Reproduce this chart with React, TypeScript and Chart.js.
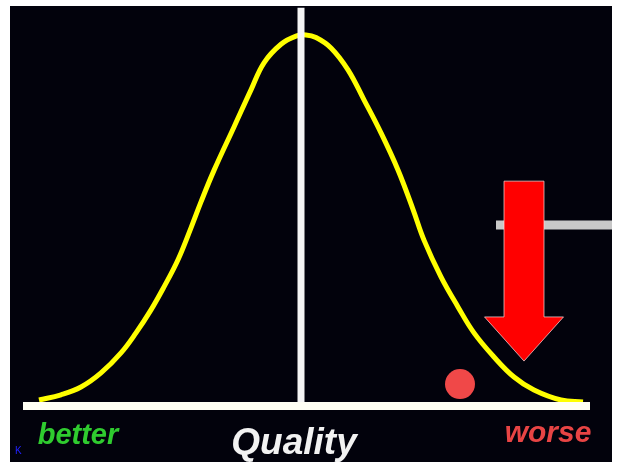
import React, { useEffect, useRef } from "react";
import { Chart, registerables } from "chart.js";

Chart.register(...registerables);

// Bell curve (quality score vs relative frequency)
const curveX = [-2.62, -2.4, -2.2, -2.0, -1.8, -1.65, -1.5, -1.37, -1.23, -1.1, -1.0, -0.87, -0.67, -0.5, -0.37, -0.2, -0.05, 0.05, 0.15, 0.3, 0.47, 0.63, 0.8, 0.97, 1.12, 1.23, 1.4, 1.57, 1.73, 1.93, 2.13, 2.33, 2.6, 2.82];
const curveY = [0.016, 0.03, 0.051, 0.089, 0.143, 0.197, 0.259, 0.321, 0.394, 0.48, 0.55, 0.635, 0.752, 0.852, 0.925, 0.975, 0.997, 1.0, 0.993, 0.965, 0.906, 0.825, 0.736, 0.636, 0.53, 0.447, 0.348, 0.267, 0.197, 0.132, 0.078, 0.043, 0.016, 0.011];

// Quality axis (horizontal) and mean line (vertical)
const axisX = [-2.78, 2.89];
const axisY = [0, 0];
const meanX = [0, 0];
const meanY = [0, 1.073];

// Single observed sample (red dot)
const sampleX = [1.59];
const sampleY = [0.059];

// Grey reference bar
const refBarX = [1.95, 3.11];
const refBarY = [0.488, 0.488];

// Down arrow: centre x, top, head base, tip, half widths (data units)
const arrowX = 2.23;
const arrowTop = 0.606;
const arrowHeadBase = 0.24;
const arrowTip = 0.121;
const arrowShaftHalf = 0.2;
const arrowHeadHalf = 0.395;

// Labels
const labelTexts = ["better", "Quality", "worse"];
const labelX = [-2.23, -0.07, 2.47];
const labelY = [-0.102, -0.13, -0.097];

const X_MIN = -2.91;
const X_MAX = 3.11;
const Y_MIN = -0.151;
const Y_MAX = 1.078;

const overlay = {
  id: "overlay",
  beforeDraw(chart: any) {
    const { ctx, chartArea } = chart;
    ctx.save();
    ctx.fillStyle = "#ffffff";
    ctx.fillRect(0, 0, chart.width, chart.height);
    ctx.fillStyle = "#02020c";
    ctx.fillRect(chartArea.left, chartArea.top, chartArea.right - chartArea.left, chartArea.bottom - chartArea.top);
    ctx.restore();
  },
  afterDatasetsDraw(chart: any) {
    const { ctx } = chart;
    const xs = chart.scales.x;
    const ys = chart.scales.y;
    ctx.save();
    // arrow
    const cx = xs.getPixelForValue(arrowX);
    const sh = xs.getPixelForValue(arrowX + arrowShaftHalf) - cx;
    const hh = xs.getPixelForValue(arrowX + arrowHeadHalf) - cx;
    const top = ys.getPixelForValue(arrowTop);
    const base = ys.getPixelForValue(arrowHeadBase);
    const tip = ys.getPixelForValue(arrowTip);
    ctx.beginPath();
    ctx.moveTo(cx - sh, top);
    ctx.lineTo(cx + sh, top);
    ctx.lineTo(cx + sh, base);
    ctx.lineTo(cx + hh, base);
    ctx.lineTo(cx, tip);
    ctx.lineTo(cx - hh, base);
    ctx.lineTo(cx - sh, base);
    ctx.closePath();
    ctx.fillStyle = "#ff0000";
    ctx.fill();
    ctx.lineWidth = 1;
    ctx.strokeStyle = "rgba(255,220,220,0.7)";
    ctx.stroke();

    // labels
    const styles = [
      { font: "italic bold 29px 'Liberation Sans', Arial, sans-serif", color: "#2fcb2f" },
      { font: "italic bold 37px 'Liberation Sans', Arial, sans-serif", color: "#f2f2f2" },
      { font: "italic bold 30px 'Liberation Sans', Arial, sans-serif", color: "#e84444" },
    ];
    ctx.textAlign = "center";
    ctx.textBaseline = "alphabetic";
    labelTexts.forEach((t, i) => {
      ctx.font = styles[i].font;
      ctx.fillStyle = styles[i].color;
      ctx.fillText(t, xs.getPixelForValue(labelX[i]), ys.getPixelForValue(labelY[i]));
    });
    ctx.font = "10px 'Liberation Sans', Arial, sans-serif";
    ctx.fillStyle = "#2222ff";
    ctx.textAlign = "left";
    ctx.fillText("K", xs.getPixelForValue(-2.86), ys.getPixelForValue(-0.13));
    ctx.restore();
  },
};

export default function App() {
  const ref = useRef<HTMLCanvasElement>(null);
  useEffect(() => {
    if (!ref.current) return;
    const pts = (xs: number[], ys: number[]) => xs.map((x, i) => ({ x, y: ys[i] }));
    const chart = new Chart(ref.current, {
      type: "scatter",
      data: {
        datasets: [
          {
            data: pts(axisX, axisY),
            showLine: true,
            borderColor: "#fffff4",
            borderWidth: 8,
            pointRadius: 0,
            order: 0,
          },
          {
            data: pts(meanX, meanY),
            showLine: true,
            borderColor: "#f4f4f4",
            borderWidth: 7,
            pointRadius: 0,
            order: 1,
          },
          {
            data: pts(sampleX, sampleY),
            showLine: false,
            pointRadius: 15,
            pointBackgroundColor: "#f04848",
            pointBorderWidth: 0,
            order: 2,
          },
          {
            data: pts(curveX, curveY),
            showLine: true,
            borderColor: "#ffff00",
            borderWidth: 5,
            pointRadius: 0,
            tension: 0.4,
            order: 3,
          },
          {
            data: pts(refBarX, refBarY),
            showLine: true,
            borderColor: "#c8c8c8",
            borderWidth: 9,
            pointRadius: 0,
            order: 4,
          },
        ],
      },
      options: {
        animation: false,
        responsive: true,
        maintainAspectRatio: false,
        layout: { autoPadding: false, padding: { left: 10, right: 13, top: 6, bottom: 0 } },
        plugins: { legend: { display: false }, tooltip: { enabled: false } },
        scales: {
          x: { type: "linear", min: X_MIN, max: X_MAX, display: false },
          y: { type: "linear", min: Y_MIN, max: Y_MAX, display: false },
        },
      },
      plugins: [overlay],
    } as any);
    return () => chart.destroy();
  }, []);
  return (
    <div style={{ position: "absolute", left: 0, top: 0, width: 625, height: 462 }}>
      <canvas ref={ref} />
    </div>
  );
}
